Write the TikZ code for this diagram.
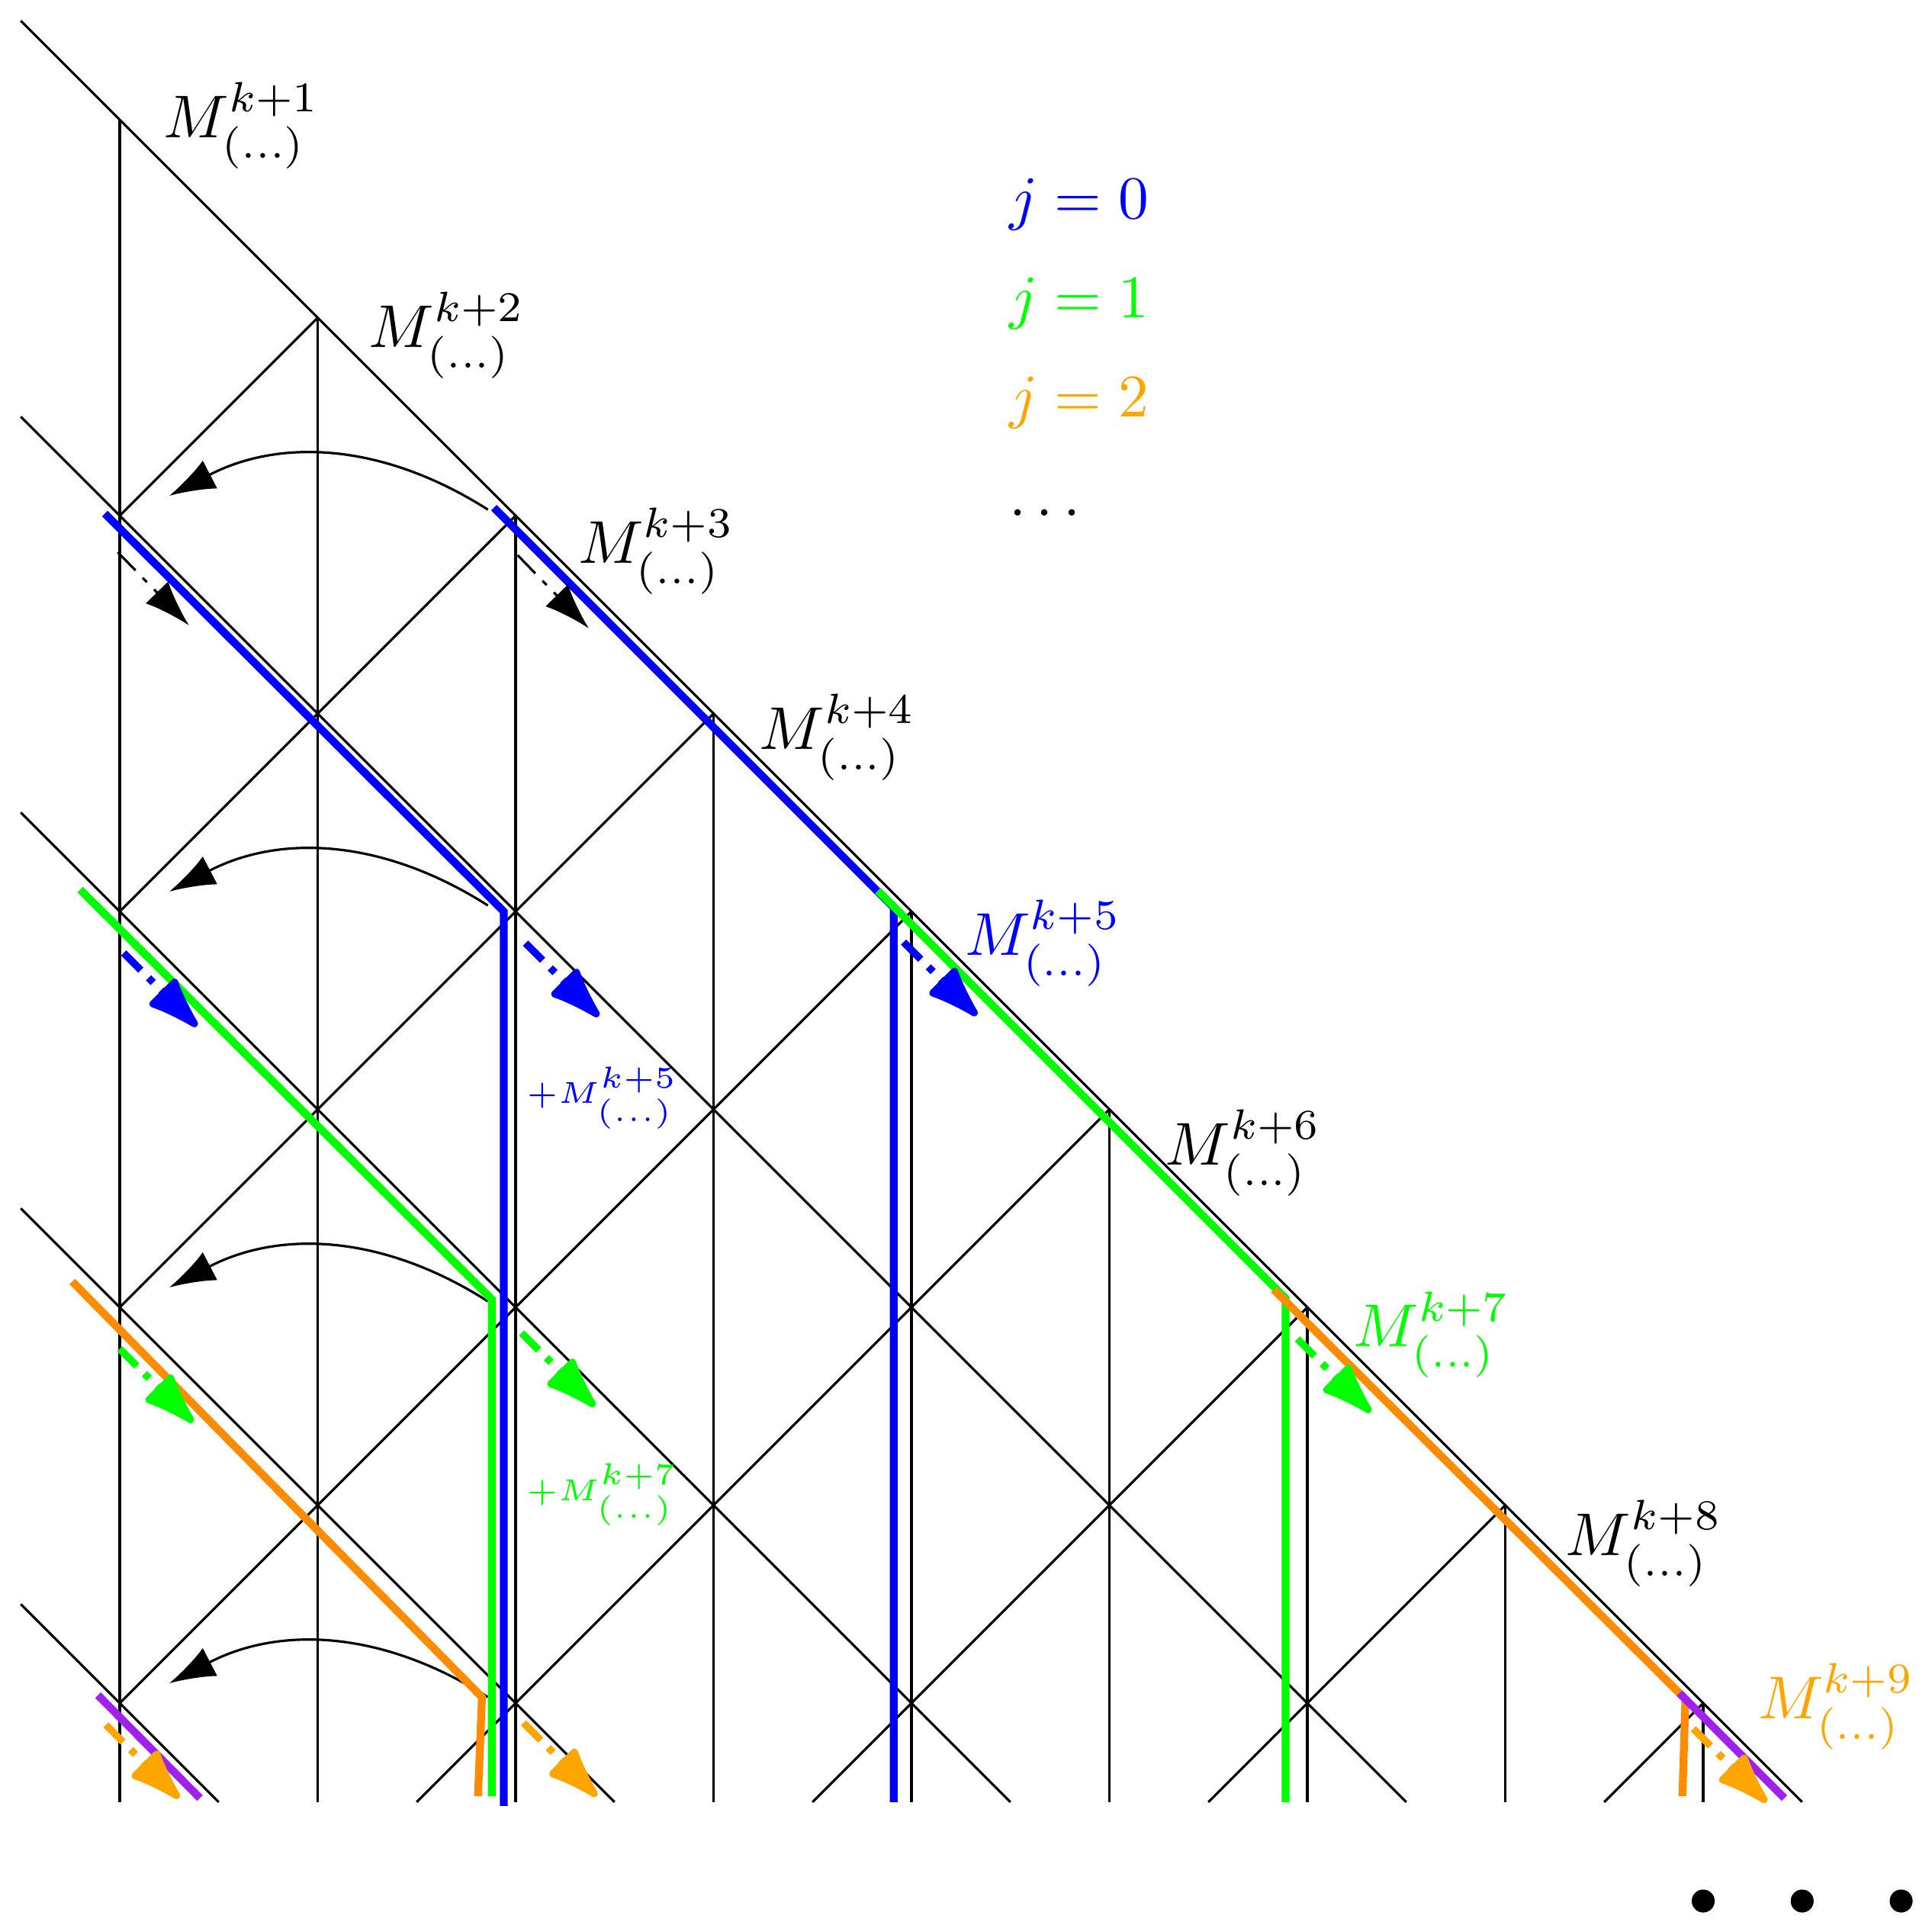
\documentclass[tikz,border=0pt]{standalone}
\usepackage{amssymb}
\usepackage{color}
\usetikzlibrary{calc,arrows.meta}

\definecolor{jorange}{RGB}{255,165,0}
\definecolor{jdarkorange}{RGB}{255,140,0}
\definecolor{jpurple}{RGB}{160,32,240}

\tikzset{
  route/.style={line width=1.3pt},
  hop/.style={dash pattern=on 4.2pt off 1.7pt on 1pt off 1.7pt, -{Latex[length=7.6pt,width=5.2pt]}},
  chop/.style={line width=1.2pt, dash pattern=on 4pt off 1.8pt on 1.1pt off 1.8pt, -{Latex[length=10.5pt,width=7pt,round]}},
  back/.style={-{Latex[length=7.6pt,width=5.2pt]}},
  lbl/.style={anchor=base west, inner sep=0pt},
}

\begin{document}
\begin{tikzpicture}[x=1.15cm,y=1.15cm]
            \useasboundingbox (-0.605,0.605) rectangle (9.156,-9.121);
            % lattice
            \foreach \i in {0,...,8}
                \draw (\i,-\i) -- (\i,-8.5);
            \draw (-0.5,0.5) -- (8.5,-8.5);
            \foreach \n in {1,...,4}
                \draw (-0.5,-2*\n+0.5) -- ({8.5-2*\n},-8.5);
            \foreach \m in {1,...,4}
                \draw (\m,-\m) -- (0,-2*\m);
            \foreach \m in {5,...,8}
                \draw (\m,-\m) -- ({2*\m-8.5},-8.5);
            % shifts back
            \foreach \k in {1,...,4}
                \draw[back] (1.86,-2*\k+0.03) to[bend right=30] (0.25,-2*\k+0.1);
            % j = 0
            \draw[route, blue] (1.89,-1.96) -- (3.91,-3.98) -- (3.91,-8.5);
            \draw[route, blue] (-0.075,-1.99) -- (1.94,-4.0) -- (1.94,-8.52);
            % j = 1
            \draw[route, green] (3.83,-3.895) -- (5.89,-5.955) -- (5.89,-8.5);
            \draw[route, green] (-0.2,-3.89) -- (1.88,-5.96) -- (1.88,-8.47);
            % j = 2
            \draw[route, jdarkorange] (5.83,-5.91) -- (7.91,-7.98) -- (7.895,-8.47);
            \draw[route, jdarkorange] (-0.24,-5.87) -- (1.83,-7.97) -- (1.81,-8.47);
            % j = 3
            \draw[route, jpurple] (7.88,-7.95) -- (8.41,-8.48);
            \draw[route, jpurple] (-0.11,-7.96) -- (0.405,-8.48);
            % steps
            \draw[hop] (-0.01,-2.185) -- ++(0.36,-0.37);
            \draw[hop] (2.01,-2.2) -- ++(0.36,-0.37);
            \draw[chop, blue] (0.02,-4.21) -- ++(0.37,-0.37);
            \draw[chop, blue] (2.05,-4.16) -- ++(0.37,-0.37);
            \draw[chop, blue] (3.96,-4.155) -- ++(0.37,-0.37);
            \draw[chop, green] (0.0,-6.21) -- ++(0.37,-0.37);
            \draw[chop, green] (2.03,-6.13) -- ++(0.37,-0.37);
            \draw[chop, green] (5.95,-6.16) -- ++(0.37,-0.37);
            \draw[chop, jorange] (-0.07,-8.11) -- ++(0.37,-0.37);
            \draw[chop, jorange] (2.04,-8.1) -- ++(0.37,-0.37);
            \draw[chop, jorange] (7.95,-8.13) -- ++(0.37,-0.37);
            % labels
            \node[lbl] (m1) at (0.216,-0.092) {$M^{k+1}_{(\ldots)}$};
            \node[lbl] (m2) at (1.252,-1.15) {$M^{k+2}_{(\ldots)}$};
            \node[lbl] (m3) at (2.31,-2.24) {$M^{k+3}_{(\ldots)}$};
            \node[lbl] (m4) at (3.225,-3.18) {$M^{k+4}_{(\ldots)}$};
            \node[lbl, blue] (m5) at (4.264,-4.22) {$M^{k+5}_{(\ldots)}$};
            \node[lbl] (m6) at (5.275,-5.282) {$M^{k+6}_{(\ldots)}$};
            \node[lbl, green] (m7) at (6.227,-6.2) {$M^{k+7}_{(\ldots)}$};
            \node[lbl] (m8) at (7.3,-7.255) {$M^{k+8}_{(\ldots)}$};
            \node[lbl, jorange] (m9) at (8.272,-8.08) {$M^{k+9}_{(\ldots)}$};
            \node[lbl, blue] (p5) at (2.05,-4.97) {\tiny$+M^{k+5}_{(\ldots)}$};
            \node[lbl, green] (p7) at (2.05,-6.975) {\tiny$+M^{k+7}_{(\ldots)}$};
            % legend
            \node[lbl, blue] (j0) at (4.49,-0.5) {$j=0$};
            \node[lbl, green] (j1) at (4.49,-1.0) {$j=1$};
            \node[lbl, jorange] (j2) at (4.49,-1.5) {$j=2$};
            \node[lbl] (jn) at (4.49,-2.0) {$\ldots$};
            \fill (8,-9) circle (0.058);
            \fill (8.5,-9) circle (0.058);
            \fill (9,-9) circle (0.058);
        \end{tikzpicture}
\end{document}
